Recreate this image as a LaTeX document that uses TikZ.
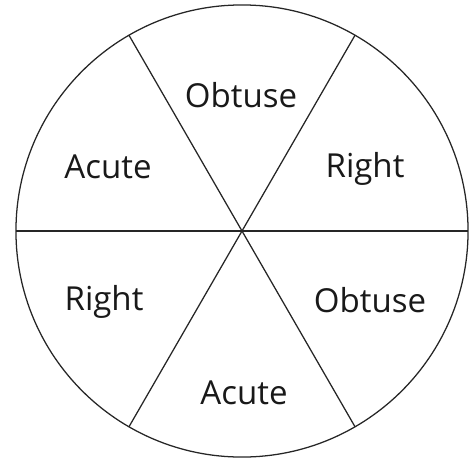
\documentclass[tikz,border=0pt]{standalone}
\usepackage{fontspec}
\setmainfont{Open Sans}
\usetikzlibrary{positioning}

\begin{document}
\begin{tikzpicture}[
        x=0.025cm, y=-0.025cm,
        wheel/.style={
            circle, draw=black!85, line width=0.9pt,
            minimum size=11.3cm, inner sep=0pt, outer sep=0pt
        },
        spoke/.style={draw=black!85, line width=0.9pt},
        angle/.style={font=\fontsize{23.5}{28}\selectfont, inner sep=0pt, anchor=base, text=black!90}
    ]
        \useasboundingbox (0,0) rectangle (474,460);
        \node[wheel] (disc) at (242,231) {};

        \draw[spoke] (disc.west) -- (disc.east);
        \draw[spoke] (disc.120) -- (disc.-60);
        \draw[spoke] (disc.60) -- (disc.-120);

        % labels sit on their baselines
        \node[angle] (obtuseA) at (241,107) {Obtuse};
        \node[angle] (rightA) at (365,177) {Right};
        \node[angle] (obtuseB) at (370,312) {Obtuse};
        \node[angle] (acuteB) at (244,404) {Acute};
        \node[angle] (rightB) at (104,310) {Right};
        \node[angle] (acuteA) at (108,178) {Acute};
    \end{tikzpicture}
\end{document}
